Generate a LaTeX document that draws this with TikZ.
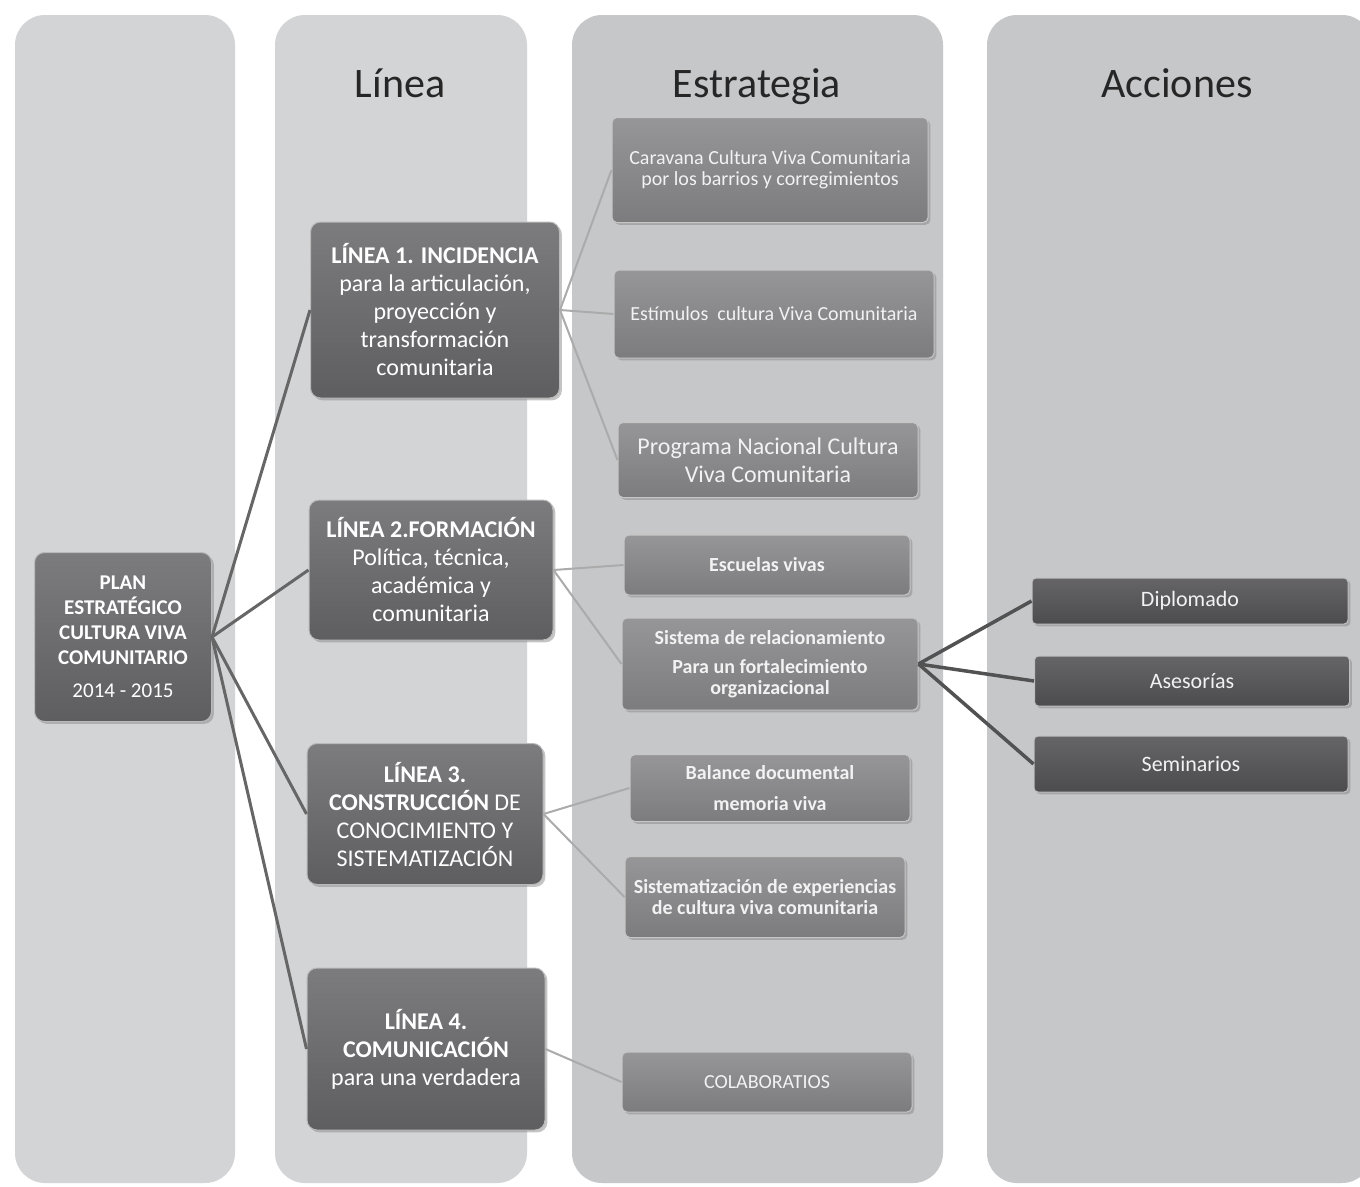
\documentclass[tikz,border=0pt]{standalone}
\usepackage{fontspec}
\setmainfont{Carlito}
\usetikzlibrary{shadows}

\definecolor{colLight}{HTML}{D3D4D6}
\definecolor{colDark}{HTML}{C6C7C9}
\definecolor{boxTop}{HTML}{7C7C7E}
\definecolor{boxBot}{HTML}{5E5E60}
\definecolor{estTop}{HTML}{969698}
\definecolor{estBot}{HTML}{7C7C7E}
\definecolor{accTop}{HTML}{656567}
\definecolor{accBot}{HTML}{4C4C4E}

\begin{document}
\begin{tikzpicture}[x=1pt,y=-1pt,
    column/.style={rounded corners=30pt},
    header/.style={font=\fontsize{42}{48}\selectfont, text=black!85, anchor=base},
    linebox/.style={draw=gray!55, line width=1pt, rounded corners=10pt,
        top color=boxTop, bottom color=boxBot, text=white, align=center,
        inner sep=0pt, drop shadow={opacity=0.45},
        font=\fontsize{24}{28}\selectfont},
    estbox/.style={draw=gray!45, line width=1pt, rounded corners=5pt,
        top color=estTop, bottom color=estBot, text=white!95!black, align=center,
        inner sep=0pt, drop shadow={opacity=0.45},
        font=\fontsize{20}{21}\selectfont},
    accbox/.style={draw=gray!50, line width=1pt, rounded corners=4pt,
        top color=accTop, bottom color=accBot, text=white!95!black, align=center,
        inner sep=0pt, drop shadow={opacity=0.45},
        font=\fontsize{22}{26}\selectfont},
    planlink/.style={draw=black!60, line width=3pt},
    estlink/.style={draw=black!33, line width=2pt},
    acclink/.style={draw=black!68, line width=3.5pt}
]
    \useasboundingbox (0,0) rectangle (1360,1186);
    \fill[white] (0,0) rectangle (1360,1186);

    % columns
    \fill[colLight, column] (15,15) rectangle (235,1183);
    \fill[colLight, column] (275,15) rectangle (527,1183);
    \fill[colDark, column] (572,15) rectangle (943,1183);
    \fill[colDark, column] (987,15) rectangle (1372,1183);

    \node[header] (hl) at (400,97) {Línea};
    \node[header] (he) at (757,97) {Estrategia};
    \node[header] (ha) at (1177,97) {Acciones};

    % plan
    \node[linebox, minimum width=177pt, minimum height=169pt,
        font=\fontsize{21}{25}\selectfont] (plan) at (123,637)
        {\textbf{PLAN}\\ \textbf{ESTRATÉGICO}\\ \textbf{CULTURA VIVA}\\
         \textbf{COMUNITARIO}\\[8pt] 2014 - 2015};

    % lineas
    \node[linebox, minimum width=249pt, minimum height=176pt] (l1) at (435,310)
        {\textbf{LÍNEA 1. INCIDENCIA}\\ para la articulación,\\ proyección y\\
         transformación\\ comunitaria};
    \node[linebox, minimum width=244pt, minimum height=140pt] (l2) at (431,570)
        {\textbf{LÍNEA 2.FORMACIÓN}\\ Política, técnica,\\ académica y\\ comunitaria};
    \node[linebox, minimum width=236pt, minimum height=141pt] (l3) at (425,814)
        {\textbf{LÍNEA 3.}\\ \textbf{CONSTRUCCIÓN} DE\\ CONOCIMIENTO Y\\ SISTEMATIZACIÓN};
    \node[linebox, minimum width=238pt, minimum height=162pt] (l4) at (426,1049)
        {\textbf{LÍNEA 4.}\\ \textbf{COMUNICACIÓN}\\ para una verdadera};

    % estrategias
    \node[estbox, minimum width=316pt, minimum height=105pt] (e1) at (770,170)
        {Caravana Cultura Viva Comunitaria\\ por los barrios y corregimientos};
    \node[estbox, minimum width=320pt, minimum height=88pt] (e2) at (774,314)
        {Estímulos\ \ cultura Viva Comunitaria};
    \node[estbox, minimum width=300pt, minimum height=75pt,
        font=\fontsize{24}{28}\selectfont] (e3) at (768,460)
        {Programa Nacional Cultura\\ Viva Comunitaria};
    \node[estbox, minimum width=286pt, minimum height=60pt] (e4) at (767,565)
        {\textbf{Escuelas vivas}};
    \node[estbox, minimum width=296pt, minimum height=92pt] (e5) at (770,664)
        {\textbf{Sistema de relacionamiento}\\[8pt] \textbf{Para un fortalecimiento}\\
         \textbf{organizacional}};
    \node[estbox, minimum width=280pt, minimum height=67pt] (e6) at (770,788)
        {\textbf{Balance documental}\\[10pt] \textbf{memoria viva}};
    \node[estbox, minimum width=280pt, minimum height=81pt] (e7) at (765,897)
        {\textbf{Sistematización de experiencias}\\ \textbf{de cultura viva comunitaria}};
    \node[estbox, minimum width=290pt, minimum height=60pt] (e8) at (767,1082)
        {COLABORATIOS};

    % acciones
    \node[accbox, minimum width=316pt, minimum height=46pt] (a1) at (1190,601) {Diplomado};
    \node[accbox, minimum width=315pt, minimum height=50pt] (a2) at (1192,681) {Asesorías};
    \node[accbox, minimum width=314pt, minimum height=56pt] (a3) at (1191,764) {Seminarios};

    \foreach \j in {1,...,4}
        \draw[planlink] (plan.east) -- (l\j.west);
    \foreach \i/\j in {1/1,1/2,1/3,2/4,2/5,3/6,3/7,4/8}
        \draw[estlink] (l\i.east) -- (e\j.west);
    \foreach \j in {1,2,3}
        \draw[acclink] (e5.east) -- (a\j.west);
\end{tikzpicture}
\end{document}
